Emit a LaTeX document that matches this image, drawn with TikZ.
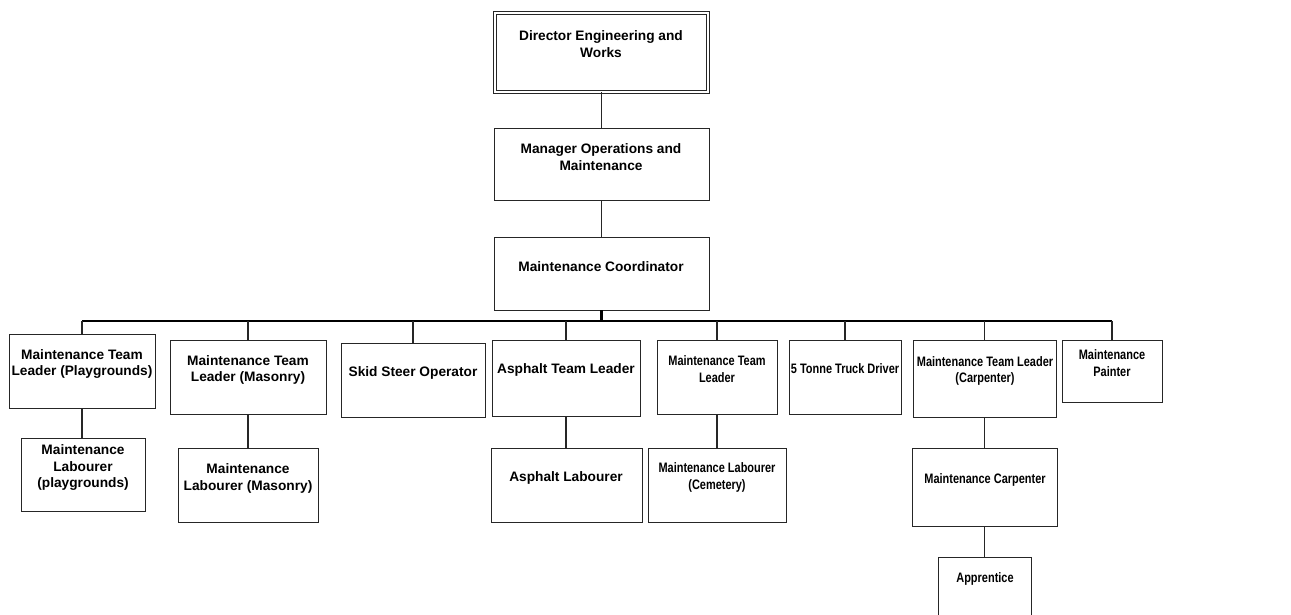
\documentclass[tikz,border=0pt]{standalone}
\usepackage{fontspec}
\setmainfont{Liberation Sans}
\newfontfamily\narrowsf[FakeStretch=0.8]{Liberation Sans}
\usetikzlibrary{fit}

\tikzset{
	post/.style={draw=black!85, line width=0.5pt, inner sep=0pt},
	head/.style={post, double, double distance=1.1pt, line width=0.5pt},
	txt/.style={font=\fontsize{7.8pt}{9.6pt}\selectfont\bfseries, align=center, inner sep=0pt},
	ntxt/.style={txt, font=\fontsize{7.8pt}{9.6pt}\selectfont\narrowsf\bfseries},
	link/.style={draw=black!85, line width=0.6pt},
	bus/.style={draw=black, line width=0.8pt},
	stub/.style={draw=black, line width=1.3pt}
}

\begin{document}
\begin{tikzpicture}[x=0.02cm, y=-0.02cm]
		\clip (0,0) rectangle (1291,615);
		
		% Top
		\node[head, fit={(495,13) (708,92)}] (dir) {};
		\node[txt] (dir-t) at (601, 44) {Director Engineering and\\Works};
		
		\node[post, fit={(494,128) (709,200)}] (mgr) {};
		\node[txt] (mgr-t) at (601, 157) {Manager Operations and\\Maintenance};
		
		\node[post, fit={(494,237) (709,310)}] (crd) {};
		\node[txt] (crd-t) at (601, 266.5) {Maintenance Coordinator};
		
		% Second row
		\node[post, fit={(9,334) (155,408)}] (pg) {};
		\node[txt] (pg-t) at (82, 364) {Maintenance Team\\Leader (Playgrounds)};
		
		\node[post, fit={(170,340) (326,414)}] (mas) {};
		\node[txt] (mas-t) at (248, 370) {Maintenance Team\\Leader (Masonry)};
		
		\node[post, fit={(341,343) (485,417)}] (skid) {};
		\node[txt] (skid-t) at (413, 372.5) {Skid Steer Operator};
		
		\node[post, fit={(492,340) (640,416)}] (asp) {};
		\node[txt] (asp-t) at (566, 369.5) {Asphalt Team Leader};
		
		\node[post, fit={(657,340) (777,414)}] (mtl) {};
		\node[ntxt] (mtl-t) at (717, 369) {Maintenance Team\\Leader};
		
		\node[post, fit={(789,340) (901,414)}] (truck) {};
		\node[ntxt] (truck-t) at (845, 368.5) {5 Tonne Truck Driver};
		
		\node[post, fit={(913,340) (1056,417)}] (carp) {};
		\node[ntxt] (carp-t) at (985, 371) {Maintenance Team Leader\\(Carpenter)};
		
		\node[post, fit={(1062,340) (1162,402)}] (paint) {};
		\node[ntxt] (paint-t) at (1112, 363) {Maintenance\\Painter};
		
		% Third row
		\node[post, fit={(21,438) (145,511)}] (pglab) {};
		\node[txt] (pglab-t) at (83, 467.5) {Maintenance\\Labourer\\(playgrounds)};
		
		\node[post, fit={(178,448) (318,522)}] (maslab) {};
		\node[txt] (maslab-t) at (248, 478.5) {Maintenance\\Labourer (Masonry)};
		
		\node[post, fit={(491,448) (642,522)}] (asplab) {};
		\node[txt] (asplab-t) at (566, 477.5) {Asphalt Labourer};
		
		\node[post, fit={(648,448) (786,522)}] (cem) {};
		\node[ntxt] (cem-t) at (717, 477.5) {Maintenance Labourer\\(Cemetery)};
		
		\node[post, fit={(912,448) (1057,526)}] (mcarp) {};
		\node[ntxt] (mcarp-t) at (985, 479.5) {Maintenance Carpenter};
		
		\node[post, fit={(938,557) (1031,640)}] (appr) {};
		\node[ntxt] (appr-t) at (985, 578.5) {Apprentice};
		
		% Lines down the top
		\draw[link] (dir.south) -- (mgr.north);
		\draw[link] (mgr.south) -- (crd.north);
		
		% Bus
		\coordinate (bus) at (601,321);
		\draw[stub] (crd.south) -- (crd.south |- bus);
		\draw[bus] (pg.north |- bus) -- (paint.north |- bus);
		\foreach \n in {pg,mas,skid,asp,mtl,truck,carp,paint}
			\draw[link] (\n.north |- bus) -- (\n.north);
		
		% Lines to third row
		\draw[link] (pg.south) -- (pg.south |- pglab.north);
		\draw[link] (mas.south) -- (mas.south |- maslab.north);
		\draw[link] (asp.south) -- (asp.south |- asplab.north);
		\draw[link] (mtl.south) -- (mtl.south |- cem.north);
		\draw[link] (carp.south) -- (carp.south |- mcarp.north);
		\draw[link] (mcarp.south) -- (mcarp.south |- appr.north);
	\end{tikzpicture}
\end{document}
